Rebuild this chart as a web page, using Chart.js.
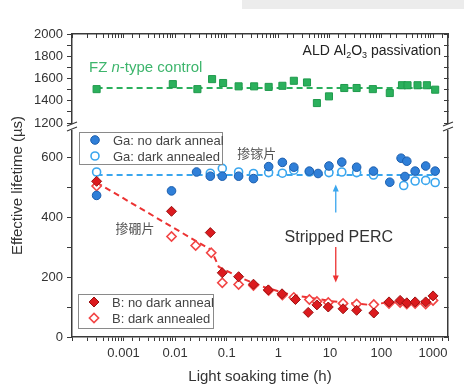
<!DOCTYPE html>
<html>
<head>
<meta charset="utf-8">
<script src="https://cdn.jsdelivr.net/npm/chart.js@4.4.0/dist/chart.umd.min.js"></script>
<style>
  html, body { margin: 0; padding: 0; background: #fff; }
</style>
</head>
<body>
<canvas id="chart" width="464" height="390"></canvas>
<script>
// FZ n-type control (top panel)
const fzTime = [0.0003, 0.009, 0.027, 0.052, 0.085, 0.17, 0.34, 0.65, 1.2, 2.0, 3.6, 5.6, 9.6, 19, 33, 68, 145, 250, 320, 500, 760, 1100];
const fzLife = [1505, 1550, 1505, 1595, 1560, 1530, 1530, 1525, 1535, 1580, 1565, 1380, 1440, 1515, 1515, 1505, 1470, 1540, 1540, 1540, 1540, 1500];
const fzLineTime = [0.0003, 1100];
const fzLineLife = [1515, 1515];

// Ga-doped
const gaTime = [0.0003, 0.0085, 0.026, 0.048, 0.082, 0.17, 0.33, 0.65, 1.2, 2, 4, 5.9, 9.6, 17, 33, 70, 145, 240, 285, 310, 450, 720, 1100];
const gaLife = [472, 487, 550, 536, 536, 536, 528, 568, 582, 566, 553, 545, 570, 583, 566, 553, 516, 596, 535, 586, 553, 570, 553];
const gaDarkTime = [0.0003, 0.048, 0.082, 0.17, 0.33, 0.65, 1.2, 2, 4, 9.6, 17, 33, 70, 270, 450, 720, 1100];
const gaDarkLife = [550, 546, 562, 550, 545, 548, 546, 556, 550, 548, 550, 548, 540, 505, 520, 522, 515];
const gaLineTime = [0.0003, 1100];
const gaLineLife = [540, 540];

// B-doped
const bTime = [0.0003, 0.0085, 0.048, 0.082, 0.17, 0.33, 0.64, 1.18, 2.15, 3.8, 5.6, 9.3, 18, 33, 71, 140, 230, 310, 450, 720, 1000];
const bLife = [519, 419, 348, 214, 201, 176, 157, 144, 125, 82, 107, 100, 94, 89, 80, 117, 122, 114, 117, 117, 137];
const bDarkTime = [0.0003, 0.0085, 0.025, 0.05, 0.082, 0.17, 0.33, 0.65, 1.2, 2, 4, 5.6, 9.3, 18, 33, 71, 140, 230, 310, 450, 720, 1000];
const bDarkLife = [503, 335, 305, 281, 181, 175, 172, 155, 140, 132, 125, 118, 115, 112, 110, 108, 112, 115, 110, 112, 110, 122];
const bLineTime = [0.0003, 0.05, 0.07, 0.18, 0.5, 1.7, 4.2, 10, 60, 130, 1100];
const bLineLife = [515, 290, 234, 198, 168, 141, 131, 120, 107, 115, 120];

// axes
const xTickValues = [0.001, 0.01, 0.1, 1, 10, 100, 1000];
const xTickLabels = ['0.001', '0.01', '0.1', '1', '10', '100', '1000'];
const topTicks = [1200, 1300, 1400, 1500, 1600, 1700, 1800, 1900, 2000];
const bottomTicks = [0, 100, 200, 300, 400, 500, 600];

const FONT = '"Liberation Sans", Arial, sans-serif';
const CJK = '"Noto Sans CJK SC", sans-serif';
const axisColor = '#3a3a3a';
const textColor = '#333';
const green = '#2bb05c';
const blue = '#2f7fd8';
const blueEdge = '#1d5fae';
const lightBlue = '#3aa6ee';
const red = '#dc1a1e';
const redEdge = '#9a1111';
const lightRed = '#f24444';

const pts = (xs, ys) => xs.map((x, i) => ({x: x, y: ys[i]}));

function xLabel(v) {
  const i = xTickValues.findIndex(t => Math.abs(Math.log10(t) - Math.log10(v)) < 1e-6);
  return i >= 0 ? xTickLabels[i] : '';
}

const gaFilled = {label: 'Ga: no dark anneal', data: pts(gaTime, gaLife), yAxisID: 'y',
  pointStyle: 'circle', pointRadius: 4.3, backgroundColor: blue, borderColor: blueEdge, borderWidth: 1};
const gaOpen = {label: 'Ga: dark annealed', data: pts(gaDarkTime, gaDarkLife), yAxisID: 'y',
  pointStyle: 'circle', pointRadius: 4, backgroundColor: '#fff', borderColor: lightBlue, borderWidth: 1.6};
const bFilled = {label: 'B: no dark anneal', data: pts(bTime, bLife), yAxisID: 'y',
  pointStyle: 'rectRot', pointRadius: 5, backgroundColor: red, borderColor: redEdge, borderWidth: 1};
const bOpen = {label: 'B: dark annealed', data: pts(bDarkTime, bDarkLife), yAxisID: 'y',
  pointStyle: 'rectRot', pointRadius: 4.6, backgroundColor: '#fff', borderColor: lightRed, borderWidth: 1.6};

const datasets = [
  bFilled,
  gaFilled,
  bOpen,
  gaOpen,
  {label: 'FZ', data: pts(fzTime, fzLife), yAxisID: 'yTop',
    pointStyle: 'rect', pointRadius: 5, backgroundColor: green, borderColor: '#1f9a4c', borderWidth: 1},
  {label: 'fzLine', data: pts(fzLineTime, fzLineLife), yAxisID: 'yTop', showLine: true,
    pointRadius: 0, borderColor: green, borderWidth: 2, borderDash: [6, 4]},
  {label: 'gaLine', data: pts(gaLineTime, gaLineLife), yAxisID: 'y', showLine: true,
    pointRadius: 0, borderColor: lightBlue, borderWidth: 2, borderDash: [6, 4]},
  {label: 'bLine', data: pts(bLineTime, bLineLife), yAxisID: 'y', showLine: true,
    pointRadius: 0, borderColor: '#ec3232', borderWidth: 2, borderDash: [6, 4]}
];

const frame = {
  border: {color: axisColor, width: 1.5},
  grid: {drawOnChartArea: false, color: axisColor, tickLength: 5, tickWidth: 1}
};

function yScale(extra) {
  return Object.assign({
    type: 'linear', stack: 'v',
    border: frame.border,
    grid: Object.assign({}, frame.grid)
  }, extra);
}

// draws plain text pieces one after another (for subscripts / italics)
function drawRuns(ctx, runs, x, y, align) {
  let total = 0;
  runs.forEach(r => { ctx.font = r.font; total += ctx.measureText(r.text).width; });
  let cx = align === 'right' ? x - total : x;
  ctx.textAlign = 'left';
  runs.forEach(r => {
    ctx.font = r.font;
    ctx.fillText(r.text, cx, y + (r.dy || 0));
    cx += ctx.measureText(r.text).width;
  });
}

function arrow(ctx, x, y1, y2, color) {
  const dir = y2 > y1 ? 1 : -1;
  ctx.save();
  ctx.strokeStyle = color;
  ctx.fillStyle = color;
  ctx.lineWidth = 1.3;
  ctx.beginPath();
  ctx.moveTo(x, y1);
  ctx.lineTo(x, y2 - dir * 5);
  ctx.stroke();
  ctx.beginPath();
  ctx.moveTo(x, y2);
  ctx.lineTo(x - 3, y2 - dir * 7);
  ctx.lineTo(x + 3, y2 - dir * 7);
  ctx.closePath();
  ctx.fill();
  ctx.restore();
}

function legendBox(ctx, left, top, width, height, items) {
  ctx.save();
  ctx.fillStyle = '#fff';
  ctx.fillRect(left, top, width, height);
  ctx.strokeStyle = '#8a8a8a';
  ctx.lineWidth = 1;
  ctx.strokeRect(left + 0.5, top + 0.5, width, height);
  items.forEach((ds, i) => {
    const cy = top + 8 + i * 16;
    ctx.fillStyle = ds.backgroundColor;
    ctx.strokeStyle = ds.borderColor;
    ctx.lineWidth = ds.borderWidth;
    Chart.helpers.drawPoint(ctx, {pointStyle: ds.pointStyle, radius: ds.pointRadius, borderWidth: ds.borderWidth, rotation: 0}, left + 16, cy);
    ctx.fillStyle = '#444';
    ctx.font = '13px ' + FONT;
    ctx.textAlign = 'left';
    ctx.textBaseline = 'middle';
    ctx.fillText(ds.label, left + 34, cy + 1);
  });
  ctx.restore();
}

const decor = {
  id: 'decor',
  beforeDraw(chart) {
    const ctx = chart.ctx;
    ctx.save();
    ctx.fillStyle = '#fff';
    ctx.fillRect(0, 0, chart.width, chart.height);
    ctx.fillStyle = '#ececec';
    ctx.fillRect(242, 0, chart.width - 242, 9);
    ctx.restore();
  },
  afterDraw(chart) {
    const ctx = chart.ctx;
    const {left, right} = chart.chartArea;
    const x = chart.scales.x;
    const y = chart.scales.y;
    const yTop = chart.scales.yTop;
    const by = yTop.bottom;

    // axis breaks
    ctx.save();
    [left, right].forEach(ax => {
      ctx.fillStyle = '#fff';
      ctx.fillRect(ax - 5, by - 3, 10, 6);
      ctx.strokeStyle = axisColor;
      ctx.lineWidth = 1.2;
      ctx.beginPath();
      ctx.moveTo(ax - 5, by - 1); ctx.lineTo(ax + 5, by - 5);
      ctx.moveTo(ax - 5, by + 4); ctx.lineTo(ax + 5, by);
      ctx.stroke();
    });
    ctx.restore();

    // y title
    ctx.save();
    ctx.translate(18, (yTop.top + y.bottom) / 2);
    ctx.rotate(-Math.PI / 2);
    ctx.fillStyle = textColor;
    ctx.font = '15px ' + FONT;
    ctx.textAlign = 'center';
    ctx.textBaseline = 'middle';
    ctx.fillText('Effective lifetime (\u00b5s)', 0, 0);
    ctx.restore();

    // annotations
    ctx.save();
    ctx.textBaseline = 'alphabetic';
    ctx.fillStyle = '#222';
    drawRuns(ctx, [
      {text: 'ALD Al', font: '14px ' + FONT},
      {text: '2', font: '9px ' + FONT, dy: 3},
      {text: 'O', font: '14px ' + FONT},
      {text: '3', font: '9px ' + FONT, dy: 3},
      {text: ' passivation', font: '14px ' + FONT}
    ], right - 7, 55, 'right');

    ctx.fillStyle = '#3db56c';
    drawRuns(ctx, [
      {text: 'FZ ', font: '15px ' + FONT},
      {text: 'n', font: 'italic 15px ' + FONT},
      {text: '-type control', font: '15px ' + FONT}
    ], left + 17, 72, 'left');

    ctx.fillStyle = '#555';
    ctx.font = '13px ' + CJK;
    ctx.textAlign = 'left';
    ctx.fillText('掺镓片', x.getPixelForValue(0.16), 158);
    ctx.fillText('掺硼片', x.getPixelForValue(0.0007), 233);

    const ax = x.getPixelForValue(13);
    ctx.fillStyle = '#333';
    ctx.font = '16px ' + FONT;
    ctx.textAlign = 'center';
    ctx.fillText('Stripped PERC', ax + 3, 242);
    ctx.restore();

    arrow(ctx, ax, y.getPixelForValue(415), y.getPixelForValue(508), lightBlue);
    arrow(ctx, ax, y.getPixelForValue(300), y.getPixelForValue(182), '#ec3232');

    // legends
    legendBox(ctx, 79, 132, 143, 32, [gaFilled, gaOpen]);
    legendBox(ctx, 78, 294, 135, 34, [bFilled, bOpen]);
  }
};

new Chart(document.getElementById('chart'), {
  type: 'scatter',
  data: {datasets: datasets},
  options: {
    responsive: false,
    animation: false,
    layout: {padding: 0},
    plugins: {
      legend: {display: false},
      tooltip: {enabled: false}
    },
    scales: {
      x: {
        type: 'logarithmic', position: 'bottom', min: 0.0001, max: 1950,
        border: frame.border,
        grid: Object.assign({}, frame.grid, {tickLength: 4}),
        ticks: {autoSkip: false, maxRotation: 0, padding: 5, color: textColor,
          font: {family: FONT, size: 13}, callback: v => xLabel(v)},
        title: {display: true, text: 'Light soaking time (h)', color: textColor,
          font: {family: FONT, size: 15}, padding: {top: 0, bottom: 4}},
        afterFit: s => { s.height = 53; }
      },
      x2: {
        type: 'logarithmic', position: 'top', min: 0.0001, max: 1950,
        border: frame.border,
        grid: Object.assign({}, frame.grid, {tickLength: -4}),
        ticks: {display: false, autoSkip: false},
        afterFit: s => { s.height = 34; }
      },
      yTop: yScale({
        position: 'left', stackWeight: 93, weight: 1, min: 1165, max: 2000,
        afterBuildTicks: s => { s.ticks = topTicks.map(v => ({value: v})); },
        ticks: {autoSkip: false, padding: 4, color: textColor, font: {family: FONT, size: 13},
          callback: v => (v % 200 === 0 ? String(v) : '')},
        afterFit: s => { s.width = 72; }
      }),
      y: yScale({
        position: 'left', stackWeight: 210, weight: 0, min: 0, max: 700,
        afterBuildTicks: s => { s.ticks = bottomTicks.map(v => ({value: v})); },
        ticks: {autoSkip: false, padding: 4, color: textColor, font: {family: FONT, size: 13},
          callback: v => (v % 200 === 0 ? String(v) : '')},
        afterFit: s => { s.width = 72; }
      }),
      yTopR: yScale({
        position: 'right', stackWeight: 93, weight: 0, min: 1165, max: 2000,
        grid: Object.assign({}, frame.grid, {tickLength: -4}),
        afterBuildTicks: s => { s.ticks = topTicks.map(v => ({value: v})); },
        ticks: {display: false, autoSkip: false},
        afterFit: s => { s.width = 16; }
      }),
      yR: yScale({
        position: 'right', stackWeight: 210, weight: 1, min: 0, max: 700,
        grid: Object.assign({}, frame.grid, {tickLength: -4}),
        afterBuildTicks: s => { s.ticks = bottomTicks.map(v => ({value: v})); },
        ticks: {display: false, autoSkip: false},
        afterFit: s => { s.width = 16; }
      })
    }
  },
  plugins: [decor]
});
</script>
</body>
</html>
